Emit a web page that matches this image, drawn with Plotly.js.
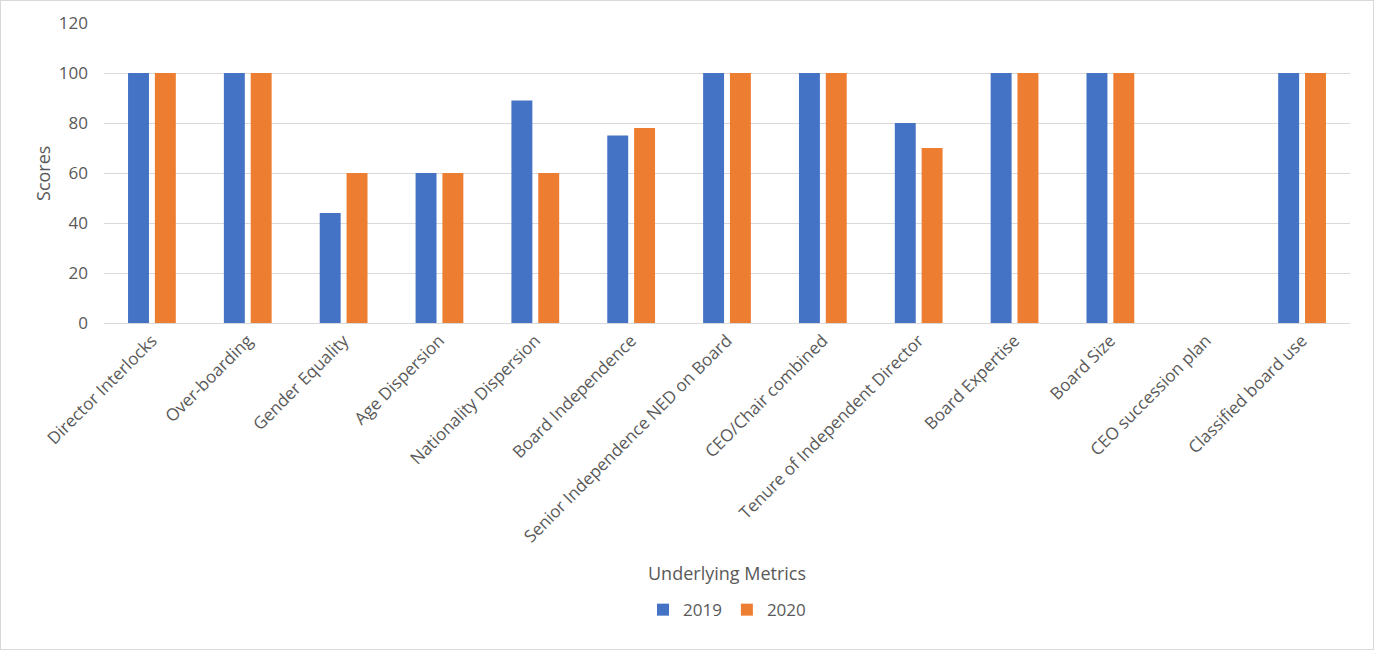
<!DOCTYPE html>
<html>
<head>
<meta charset="utf-8">
<script src="https://cdn.plot.ly/plotly-3.0.1.min.js"></script>
<style>
  html, body { margin: 0; padding: 0; background: #fff; }
  #wrap { width: 1374px; height: 650px; box-sizing: border-box; border: 1px solid #d9d9d9; }
  #chart { width: 1372px; height: 648px; }
</style>
</head>
<body>
<div id="wrap"><div id="chart"></div></div>
<script>
const categories = ["Director Interlocks","Over-boarding","Gender Equality","Age Dispersion","Nationality Dispersion","Board Independence","Senior Independence NED on Board","CEO/Chair combined","Tenure of Independent Director","Board Expertise","Board Size","CEO succession plan","Classified board use"];
const scores2019 = [100,100,44,60,89,75,100,100,80,100,100,0,100];
const scores2020 = [100,100,60,60,60,78,100,100,70,100,100,0,100];
const yTicks = [0,20,40,60,80,100,120];

const fontFam = '"Open Sans", "Noto Sans", sans-serif';
const textColor = '#595959';

const traces = [
  {type:'bar', name:'2019', x:categories, y:scores2019, marker:{color:'#4472C4'}},
  {type:'bar', name:'2020', x:categories, y:scores2020, marker:{color:'#ED7D31'}}
];

const layout = {
  width: 1372, height: 648,
  margin: {l:103, r:23, t:22, b:326},
  paper_bgcolor:'#fff', plot_bgcolor:'#fff',
  font: {family: fontFam, size: 16, color: textColor},
  barmode:'group', bargap:0.44, bargroupgap:0.22,
  showlegend:true,
  legend:{orientation:'h', x:0.5, xanchor:'center', y:-0.957, yanchor:'middle', font:{size:17, color:textColor}, itemwidth:30, traceorder:'normal'},
  xaxis:{type:'category', tickangle:-45, showgrid:false, showline:true, linecolor:'#d9d9d9', linewidth:1, ticks:'', automargin:false, tickfont:{size:17, color:textColor}},
  yaxis:{range:[0,120], tickvals:yTicks, showgrid:true, gridcolor:'#d9d9d9', gridwidth:1, zeroline:false, showline:false, ticks:'', ticklen:0, ticklabelstandoff:15, tickfont:{size:17, color:textColor}, automargin:false},
  annotations:[
    {text:'Underlying Metrics', xref:'paper', yref:'paper', x:0.5, y:-0.833, xanchor:'center', yanchor:'middle', showarrow:false, font:{size:18, color:textColor}},
    {text:'Scores', xref:'paper', yref:'paper', x:-0.049, y:0.5, xanchor:'center', yanchor:'middle', textangle:-90, showarrow:false, font:{size:18, color:textColor}}
  ]
};

Plotly.newPlot('chart', traces, layout, {displayModeBar:false, staticPlot:true});
</script>
</body>
</html>
